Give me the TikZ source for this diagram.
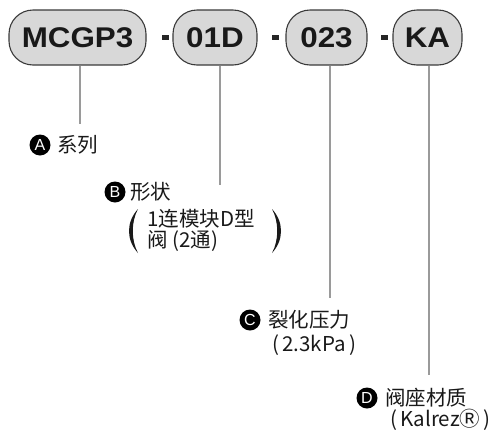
\documentclass[tikz,border=0pt]{standalone}
\usepackage{fontspec}
\setmainfont{Liberation Sans}
\newfontfamily\boxfont[FakeStretch=1.1]{Liberation Sans Bold}
\newfontfamily\cjk{Noto Sans CJK SC}
\definecolor{boxfill}{HTML}{D8D8D8}
\definecolor{boxline}{HTML}{3A3A3A}
\definecolor{leader}{HTML}{9A9A9A}
\tikzset{
  codebox/.style={draw=boxline, fill=boxfill, line width=1.1pt, rounded corners=24pt,
    minimum height=55pt, inner sep=0pt, font=\boxfont\fontsize{28.5}{28.5}\selectfont, text=black!90},
  dashbar/.style={fill=black!85, draw=none, minimum width=7pt, minimum height=5pt, inner sep=0pt},
  leadline/.style={draw=leader, line width=2pt},
  badge/.style={circle, fill=black, text=white, minimum size=21pt, inner sep=0pt,
    font=\fontsize{16}{16}\selectfont},
  lbl/.style={anchor=west, inner sep=0pt, font=\cjk\fontsize{20.5}{22}\selectfont, text=black!90, align=left},
  paren/.style={fill=black!90, draw=none}
}
\begin{document}
\begin{tikzpicture}[x=1pt,y=-1pt]
\useasboundingbox (0,0) rectangle (493,429);
% code boxes
\node[codebox, minimum width=137pt] (b1) at (77.5,37.5) {MCGP3};
\node[dashbar] (d1) at (165,37) {};
\node[codebox, minimum width=84pt] (b2) at (215,37.5) {01D};
\node[dashbar] (d2) at (275,37) {};
\node[codebox, minimum width=81pt] (b3) at (326.5,37.5) {023};
\node[dashbar] (d3) at (384,37) {};
\node[codebox, minimum width=69pt] (b4) at (427.5,37.5) {KA};
% leader ends
\coordinate (e1) at (80,124);
\coordinate (e2) at (220,185);
\coordinate (e3) at (330,298);
\coordinate (e4) at (429,375);
\draw[leadline] (b1.south -| e1) -- (e1);
\draw[leadline] (b2.south -| e2) -- (e2);
\draw[leadline] (b3.south -| e3) -- (e3);
\draw[leadline] (b4.south -| e4) -- (e4);
% labels
\node[badge] (cA) at (40,145) {A};
\node[lbl] (tA) at (57,145) {系列};
\node[badge] (cB) at (115,192) {B};
\node[lbl] (tB) at (130,192) {形状};
\node[lbl] (tB1) at (147,219) {1连模块D型};
\node[lbl] (tB2) at (147,241) {阀 (2通)};
\fill[paren] (138,209) .. controls (126,222) and (126,240) .. (138,253)
             .. controls (131,240) and (131,222) .. cycle;
\fill[paren] (272,209) .. controls (284,222) and (284,240) .. (272,253)
             .. controls (279,240) and (279,222) .. cycle;
\node[badge] (cC) at (250,320) {C};
\node[lbl] (tC) at (268,320) {裂化压力};
\node[lbl] (tC2) at (272,345) {(\,2.3kPa\,)};
\node[badge] (cD) at (367,398) {D};
\node[lbl] (tD) at (385,398) {阀座材质};
\node[lbl] (tD2) at (390,420) {(\,KalrezⓇ\,)};
\end{tikzpicture}
\end{document}
